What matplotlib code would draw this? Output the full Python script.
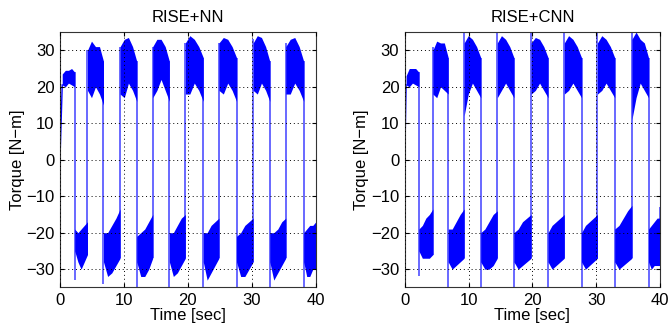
"""
Torque comparison: RISE+NN vs RISE+CNN (two panels, envelope of noisy torque signal).
Output: out.png (668x330)
"""

import numpy as np
import matplotlib
matplotlib.use("Agg")
import matplotlib.pyplot as plt

plt.rcParams.update({
    "font.family": ["Liberation Sans", "DejaVu Sans"],
    "font.size": 12,
    "axes.linewidth": 0.8,
    "xtick.direction": "in",
    "ytick.direction": "in",
    "xtick.top": True,
    "ytick.right": True,
    "xtick.major.size": 3,
    "ytick.major.size": 3,
    "xtick.major.pad": 4,
    "ytick.major.pad": 4,
})

# ---- RISE+NN: segment boundaries (sec), high/low alternating, envelope at 5 points per segment
nn_bounds = [0.35, 2.3, 4.3, 6.8, 9.4, 12.0, 14.5, 17.1, 19.6, 22.4, 24.85,
             27.6, 30.2, 32.8, 35.3, 38.1, 40.0]
nn_upper = [
    [23.5, 24.5, 24.5, 25, 24],
    [-19, -20, -19, -18, -17],
    [30, 32.5, 31, 31, 27],
    [-20, -20, -18, -16, -13.5],
    [31, 33, 33.5, 31, 27],
    [-21, -20, -19, -17, -15],
    [31, 33, 33, 31, 27],
    [-20, -20, -18, -16, -15],
    [32, 34, 33, 31, 28],
    [-20, -20, -18, -17, -16],
    [32, 33.5, 33, 31, 28],
    [-21, -20, -18, -17, -16],
    [32, 34, 33.5, 31, 27],
    [-20, -20, -19, -17, -16],
    [31, 33, 33.5, 31, 27],
    [-20, -19, -18, -18, -17],
]
nn_lower = [
    [20.5, 20, 21, 20.5, 20],
    [-25, -28, -30, -28, -26],
    [19, 17, 20, 18, 15],
    [-28, -32, -31, -29, -27],
    [18, 17, 21, 19, 16],
    [-28, -32, -32, -30, -27],
    [17, 19, 22, 19, 16],
    [-28, -32, -31, -29, -27],
    [18, 18, 21, 19, 16],
    [-28, -33, -31, -29, -27],
    [19, 18, 21, 19, 16],
    [-28, -32, -32, -30, -28],
    [19, 18, 21, 19, 16],
    [-28, -33, -31, -29, -27],
    [18, 18, 21, 19, 16],
    [-28, -32, -32, -30, -30],
]
# overshoot at each switching instant (bounds[1:-1])
nn_spikes = [-33, 30, -34, 31, -35, 31, -36, 32, -36, 32, -36, 33, -36, 32, -36]

# ---- RISE+CNN
cnn_bounds = [0.2, 2.2, 4.4, 6.8, 9.3, 11.9, 14.5, 17.1, 19.8, 22.45, 25.0,
              27.7, 30.2, 32.9, 35.6, 38.2, 40.0]
cnn_upper = [
    [23, 25, 25, 25, 24],
    [-19, -18, -16, -15, -13.5],
    [30, 32.5, 32, 32, 28],
    [-19, -19, -17, -15, -13.5],
    [32, 34, 33, 31, 28],
    [-20, -19, -17, -15, -14],
    [32, 34, 33, 31, 28],
    [-20, -19, -17, -16, -15],
    [32, 33.5, 33, 31, 28],
    [-20, -18, -17, -16, -15],
    [32, 34, 33, 31, 28],
    [-20, -18, -17, -16, -15],
    [32, 34, 33, 31, 28],
    [-19, -18, -16, -14, -12.5],
    [33, 35, 33, 32, 28],
    [-19, -18, -17, -16, -16],
]
cnn_lower = [
    [20.5, 20, 21, 20.5, 20],
    [-25, -27, -27, -27, -26],
    [18, 17, 20, 19, 18],
    [-28, -30, -29, -28, -27],
    [12, 18, 21, 19, 17],
    [-28, -30, -30, -29, -27],
    [17, 19, 21, 19, 17],
    [-28, -30, -29, -28, -27],
    [18, 19, 21, 19, 17],
    [-28, -30, -29, -28, -27],
    [18, 19, 21, 19, 17],
    [-28, -30, -29, -28, -27],
    [18, 19, 21, 19, 17],
    [-28, -30, -29, -28, -27],
    [11, 17, 21, 19, 17],
    [-28, -30, -29, -29, -29],
]
cnn_spikes = [-32, 31, -36, 36, -36, 36, -36, 36, -36, 36, -36, 35, -36, 36, -36]

BLUE = "#0000ff"


def draw_panel(ax, bounds, upper, lower, spikes, title):
    # initial ramp from zero
    ax.plot([0, bounds[0]], [0, lower[0][0]], color=BLUE, lw=1.0)
    for i in range(len(upper)):
        t = np.linspace(bounds[i], bounds[i + 1], len(upper[i]))
        ax.fill_between(t, lower[i], upper[i], color=BLUE, lw=0)
    # switching transitions
    for k, s in enumerate(spikes):
        tk = bounds[k + 1]
        vals = [upper[k][-1], lower[k][-1], upper[k + 1][0], lower[k + 1][0], s]
        ax.vlines(tk, min(vals), max(vals), color=BLUE, lw=1.1, alpha=0.75)
    ax.set_xlim(0, 40)
    ax.set_ylim(-35, 35)
    ax.set_xticks([0, 10, 20, 30, 40])
    ax.set_yticks([-30, -20, -10, 0, 10, 20, 30])
    ax.grid(True, color="black", linestyle=(0, (1, 3)), linewidth=0.7)
    ax.set_axisbelow(False)
    ax.set_xlabel("Time [sec]", labelpad=0)
    ax.set_ylabel("Torque [N\u2212m]", labelpad=1)
    ax.set_title(title, fontsize=12, pad=7)
    for sp in ax.spines.values():
        sp.set_color("#333333")


fig = plt.figure(figsize=(6.68, 3.30), dpi=100)
ax1 = fig.add_axes([0.0898, 0.129, 0.383, 0.774])
ax2 = fig.add_axes([0.606, 0.129, 0.382, 0.774])

draw_panel(ax1, nn_bounds, nn_upper, nn_lower, nn_spikes, "RISE+NN")
draw_panel(ax2, cnn_bounds, cnn_upper, cnn_lower, cnn_spikes, "RISE+CNN")
# CNN trace starts rising again at the right edge
ax2.vlines(40, -29, -13, color=BLUE, lw=1.1, alpha=0.75)

fig.savefig("out.png", dpi=100)
plt.close(fig)
